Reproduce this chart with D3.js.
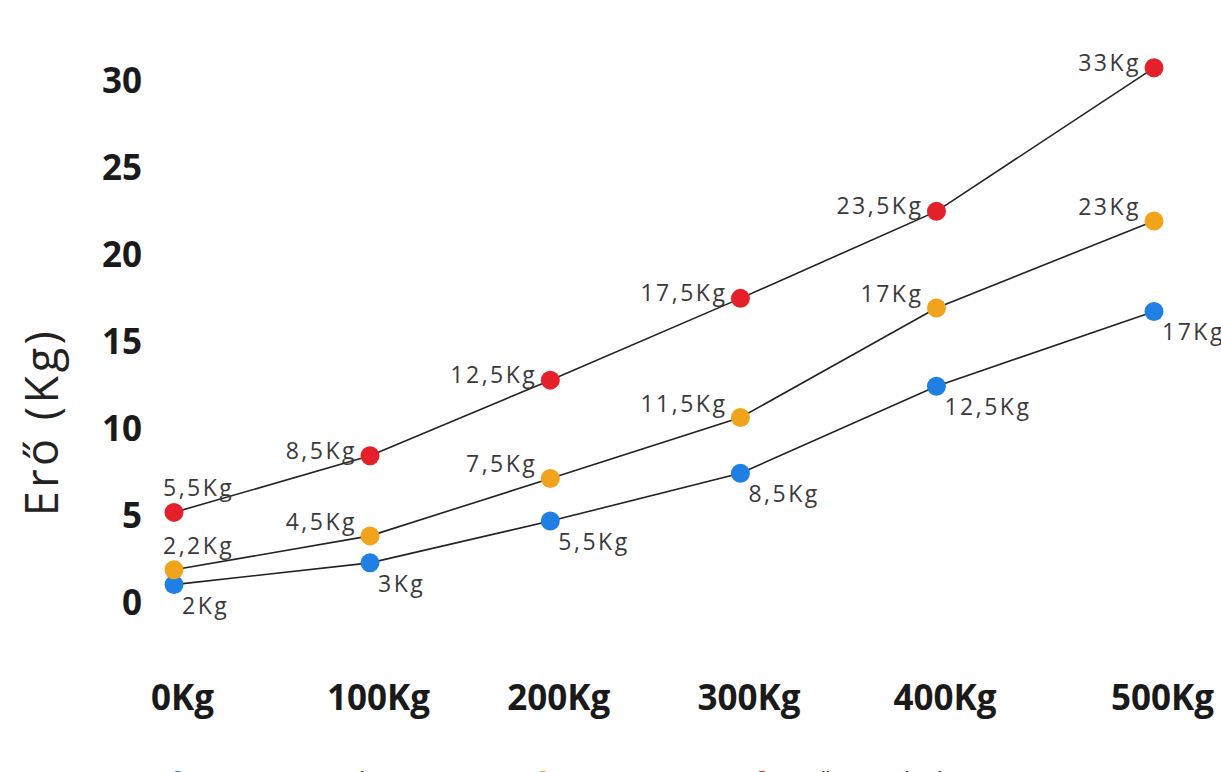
<!DOCTYPE html>
<html>
<head>
<meta charset="utf-8">
<script src="https://cdn.jsdelivr.net/npm/d3@7/dist/d3.min.js"></script>
<style>
  html, body { margin: 0; padding: 0; background: #fff; overflow: hidden; }
  svg { display: block; }
</style>
</head>
<body>
<svg id="chart" width="1221" height="772"></svg>
<script>
// ---- data ----
const categories = ["0Kg", "100Kg", "200Kg", "300Kg", "400Kg", "500Kg"];
const loadPositions = [0, 100, 192, 289, 389, 500];   // measured load position of each category
const yTicks = [0, 5, 10, 15, 20, 25, 30];
const seriesNames = ["Gyenge rugó", "Közepes", "Erős rugópár"];

const blueValues   = [1.0, 2.25, 4.65, 7.4, 12.4, 16.7];
const orangeValues = [1.85, 3.8, 7.1, 10.6, 16.9, 21.9];
const redValues    = [5.15, 8.4, 12.75, 17.45, 22.45, 30.7];

const blueLabels   = ["2Kg", "3Kg", "5,5Kg", "8,5Kg", "12,5Kg", "17Kg"];
const orangeLabels = ["2,2Kg", "4,5Kg", "7,5Kg", "11,5Kg", "17Kg", "23Kg"];
const redLabels    = ["5,5Kg", "8,5Kg", "12,5Kg", "17,5Kg", "23,5Kg", "33Kg"];

// ---- layout ----
const svg = d3.select("#chart");
const x = d3.scaleLinear().domain([0, 500]).range([174, 1154]);
const y = d3.scaleLinear().domain([0, 30]).range([602, 80]);

const colors = ["#1f7fe2", "#f2a31c", "#e4202a"];
const series = [
  { name: seriesNames[0], values: blueValues, labels: blueLabels, color: colors[0], pos: "below" },
  { name: seriesNames[1], values: orangeValues, labels: orangeLabels, color: colors[1], pos: "left" },
  { name: seriesNames[2], values: redValues, labels: redLabels, color: colors[2], pos: "left" }
];

// y axis
const yAxis = d3.axisLeft(y).tickValues(yTicks).tickSize(0).tickPadding(0);
const gy = svg.append("g").attr("transform", "translate(142,0)").call(yAxis);
gy.select(".domain").remove();
gy.selectAll("text")
  .attr("font-family", "'Open Sans', sans-serif")
  .attr("font-weight", "bold")
  .attr("font-size", 35)
  .attr("fill", "#1a1a1a")
  .attr("dy", "0.36em");

// x axis
const xAxis = d3.axisBottom(x).tickValues(loadPositions)
  .tickFormat((d, i) => categories[i]).tickSize(0).tickPadding(0);
const gx = svg.append("g").attr("transform", "translate(0,697)").call(xAxis);
gx.select(".domain").remove();
gx.selectAll("text")
  .attr("font-family", "'Open Sans', sans-serif")
  .attr("font-weight", "bold")
  .attr("font-size", 35)
  .attr("fill", "#1a1a1a")
  .attr("dx", 8)
  .attr("dy", "0.36em")
  .attr("y", 0);

// y title
svg.append("text")
  .attr("transform", "translate(58,422) rotate(-90)")
  .attr("text-anchor", "middle")
  .attr("font-family", "'Open Sans', sans-serif")
  .attr("font-size", 45)
  .attr("letter-spacing", 3.5)
  .attr("fill", "#222")
  .text("Erő (Kg)");

// lines
const line = d3.line()
  .x((d, i) => x(loadPositions[i]))
  .y(d => y(d));

series.forEach(s => {
  svg.append("path")
    .datum(s.values)
    .attr("d", line)
    .attr("fill", "none")
    .attr("stroke", "#222")
    .attr("stroke-width", 1.6);
});

// points
series.forEach(s => {
  svg.append("g").selectAll("circle")
    .data(s.values)
    .join("circle")
    .attr("cx", (d, i) => x(loadPositions[i]))
    .attr("cy", d => y(d))
    .attr("r", 9.5)
    .attr("fill", s.color);
});

// data labels
series.forEach(s => {
  svg.append("g").selectAll("text")
    .data(s.values)
    .join("text")
    .attr("font-family", "'Open Sans', sans-serif")
    .attr("font-size", 23)
    .attr("letter-spacing", 2.5)
    .attr("fill", "#3a3a3a")
    .attr("text-anchor", (d, i) => (s.pos === "below" || i === 0) ? "start" : "end")
    .attr("x", (d, i) => {
      const px = x(loadPositions[i]);
      if (s.pos === "below") return px + 8;
      if (i === 0) return px - 11;
      return px - 13;
    })
    .attr("y", (d, i) => {
      const py = y(d);
      if (s.pos === "below") return py + 29;
      if (i === 0) return py - 16;
      return s.color === colors[2] ? py + 3 : py - 6;
    })
    .text((d, i) => s.labels[i]);
});

// legend (partly cut off at the bottom)
const legendX = [178, 543, 762];
const lg = svg.append("g");
series.forEach((s, i) => {
  lg.append("circle")
    .attr("cx", legendX[i])
    .attr("cy", 780)
    .attr("r", 9)
    .attr("fill", s.color);
  lg.append("text")
    .attr("x", legendX[i] + 27)
    .attr("y", 789)
    .attr("font-family", "'Open Sans', sans-serif")
    .attr("font-size", 24)
    .attr("letter-spacing", 2)
    .attr("fill", "#444")
    .text(s.name);
});
</script>
</body>
</html>
